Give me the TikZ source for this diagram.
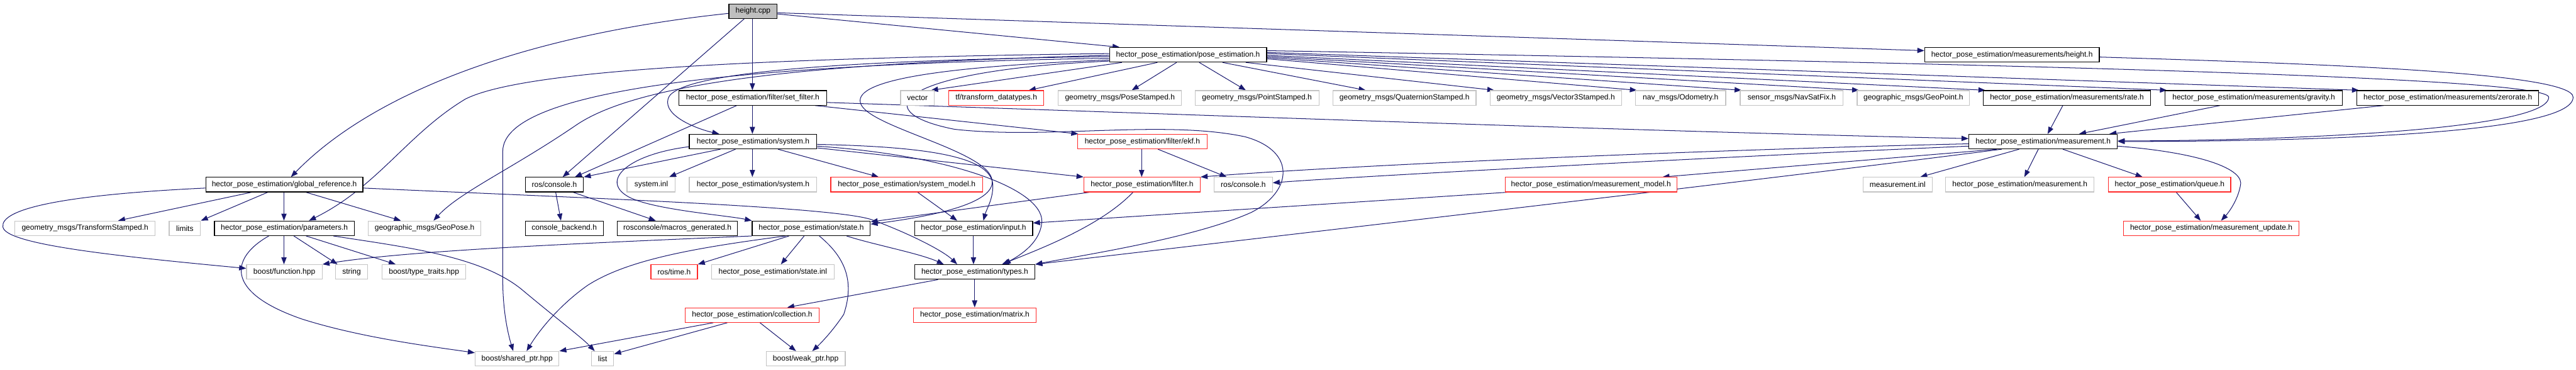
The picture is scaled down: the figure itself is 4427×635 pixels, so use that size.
\documentclass[tikz,border=0pt]{standalone}
\usepackage{fontspec}
\setmainfont{Liberation Sans}
\usetikzlibrary{arrows.meta,calc}
\definecolor{edgecol}{RGB}{25,25,112}
\definecolor{redb}{RGB}{255,40,40}
\definecolor{grayb}{RGB}{196,196,196}
\definecolor{cppfill}{RGB}{191,191,191}
\pgfdeclarelayer{bg}
\pgfsetlayers{bg,main}
\newcommand\mknode[6]{\node[#1, minimum width={(#4-#3)*1pt}, anchor=north west] (#2) at (#3,#5) {#6};}
\begin{document}
\begin{tikzpicture}[x=1pt,y=-1pt,
  box/.style={rectangle, fill=white, inner sep=0pt, minimum height=25pt, line width=1.3pt,
    font=\fontsize{13}{15}\selectfont, text=black},
  blk/.style={box, draw=black},
  gry/.style={box, draw=grayb},
  redbox/.style={box, draw=redb},
  e/.style={draw=edgecol, line width=1.1pt, -{Triangle[length=12pt,width=9pt]}}]
\useasboundingbox (0,0) rectangle (4427,635);
% rank 0
\mknode{blk, fill=cppfill}{cpp}{1252}{1335}{6}{height.cpp}
% rank 1
\mknode{blk}{pose}{1906}{2176}{81}{hector\_pose\_estimation/pose\_estimation.h}
\mknode{blk}{mheight}{3307}{3607}{81}{hector\_pose\_estimation/measurements/height.h}
% rank 2
\mknode{blk}{setf}{1166}{1420}{155}{hector\_pose\_estimation/filter/set\_filter.h}
\mknode{gry}{vector}{1547}{1605}{155}{vector}
\mknode{redbox}{tf}{1630}{1793}{155}{tf/transform\_datatypes.h}
\mknode{gry}{posest}{1818}{2030}{155}{geometry\_msgs/PoseStamped.h}
\mknode{gry}{pointst}{2053}{2266}{155}{geometry\_msgs/PointStamped.h}
\mknode{gry}{quat}{2290}{2536}{155}{geometry\_msgs/QuaternionStamped.h}
\mknode{gry}{vec3}{2560}{2786}{155}{geometry\_msgs/Vector3Stamped.h}
\mknode{gry}{odom}{2810}{2965}{155}{nav\_msgs/Odometry.h}
\mknode{gry}{navsat}{2990}{3167}{155}{sensor\_msgs/NavSatFix.h}
\mknode{gry}{geopoint}{3191}{3384}{155}{geographic\_msgs/GeoPoint.h}
\mknode{blk}{rate}{3408}{3695}{155}{hector\_pose\_estimation/measurements/rate.h}
\mknode{blk}{gravity}{3720}{4025}{155}{hector\_pose\_estimation/measurements/gravity.h}
\mknode{blk}{zerorate}{4050}{4362}{155}{hector\_pose\_estimation/measurements/zerorate.h}
% rank 3
\mknode{blk}{system}{1184}{1403}{230}{hector\_pose\_estimation/system.h}
\mknode{redbox}{ekf}{1851}{2074}{230}{hector\_pose\_estimation/filter/ekf.h}
\mknode{blk}{meas}{3383}{3638}{230}{hector\_pose\_estimation/measurement.h}
% rank 4
\mknode{blk}{globref}{353}{623}{304}{hector\_pose\_estimation/global\_reference.h}
\mknode{blk}{rosc}{902}{1002}{304}{ros/console.h}
\mknode{gry}{sysinl}{1077}{1160}{304}{system.inl}
\mknode{gry}{sysgray}{1184}{1403}{304}{hector\_pose\_estimation/system.h}
\mknode{redbox}{sysmodel}{1427}{1688}{304}{hector\_pose\_estimation/system\_model.h}
\mknode{redbox}{filter}{1862}{2062}{304}{hector\_pose\_estimation/filter.h}
\mknode{gry}{rosc2}{2086}{2186}{304}{ros/console.h}
\mknode{redbox}{measmodel}{2586}{2881}{304}{hector\_pose\_estimation/measurement\_model.h}
\mknode{gry}{measinl}{3201}{3320}{304}{measurement.inl}
\mknode{gry}{measgray}{3343}{3598}{304}{hector\_pose\_estimation/measurement.h}
\mknode{redbox}{queue}{3623}{3833}{304}{hector\_pose\_estimation/queue.h}
% rank 5
\mknode{gry}{transst}{25}{266}{379}{geometry\_msgs/TransformStamped.h}
\mknode{gry}{limits}{290}{344}{379}{limits}
\mknode{blk}{params}{368}{608}{379}{hector\_pose\_estimation/parameters.h}
\mknode{gry}{geopose}{632}{826}{379}{geographic\_msgs/GeoPose.h}
\mknode{blk}{cback}{902}{1036}{379}{console\_backend.h}
\mknode{blk}{macros}{1060}{1267}{379}{rosconsole/macros\_generated.h}
\mknode{blk}{state}{1292}{1495}{379}{hector\_pose\_estimation/state.h}
\mknode{blk}{input}{1571}{1774}{379}{hector\_pose\_estimation/input.h}
\mknode{redbox}{measupd}{3649}{3950}{379}{hector\_pose\_estimation/measurement\_update.h}
% rank 6
\mknode{gry}{function}{423}{553}{454}{boost/function.hpp}
\mknode{gry}{string}{576}{631}{454}{string}
\mknode{gry}{ttraits}{656}{800}{454}{boost/type\_traits.hpp}
\mknode{redbox}{rostime}{1118}{1198}{454}{ros/time.h}
\mknode{gry}{stateinl}{1222}{1433}{454}{hector\_pose\_estimation/state.inl}
\mknode{blk}{types}{1571}{1778}{454}{hector\_pose\_estimation/types.h}
% rank 7
\mknode{redbox}{collection}{1177}{1407}{528}{hector\_pose\_estimation/collection.h}
\mknode{redbox}{matrix}{1569}{1780}{528}{hector\_pose\_estimation/matrix.h}
% rank 8
\mknode{gry}{shared}{816}{960}{603}{boost/shared\_ptr.hpp}
\mknode{gry}{list}{1016}{1054}{603}{list}
\mknode{gry}{weak}{1316}{1452}{603}{boost/weak\_ptr.hpp}

\begin{pgfonlayer}{bg}
% height.cpp
\draw[e] (cpp.east |- 0,24) -- (pose.north -| 1924,0);
\draw[e] (cpp.east |- 0,22) -- (mheight.west |- 0,87);
\draw[e] (cpp.south -| 1293,0) -- (setf.north -| 1293,0);
\draw[e] (cpp.south -| 1279,0) -- (rosc.north -| 967,0);
\draw[e] (cpp.west |- 0,23) .. controls (900,60) and (640,160) .. (globref.north -| 500,0);
% pose_estimation.h
\draw[e] (pose.south -| 1928,0) -- (vector.north -| 1600,0);
\draw[e] (pose.south -| 1989,0) -- (tf.north -| 1768,0);
\draw[e] (pose.south -| 2022,0) -- (posest.north -| 1945,0);
\draw[e] (pose.south -| 2061,0) -- (pointst.north -| 2141,0);
\draw[e] (pose.south -| 2101,0) -- (quat.north -| 2347,0);
\draw[e] (pose.south -| 2141,0) -- (vec3.north -| 2568,0);
\draw[e] (pose.east |- 0,101) -- (odom.north -| 2813,0);
\draw[e] (pose.east |- 0,99) -- (navsat.north -| 2993,0);
\draw[e] (pose.east |- 0,97) -- (geopoint.north -| 3195,0);
\draw[e] (pose.east |- 0,95) -- (rate.north -| 3412,0);
\draw[e] (pose.east |- 0,92) -- (gravity.north -| 3724,0);
\draw[e] (pose.east |- 0,90) -- (zerorate.north -| 4054,0);
\draw[e] (pose.east |- 0,87) .. controls (3600,112) and (4380,135) .. (4380,167) .. controls (4380,225) and (3900,242) .. (meas.east |- 0,242);
\draw[e] (pose.west |- 0,97) .. controls (1500,103) and (1160,120) .. (1148,170) .. controls (1140,200) and (1200,222) .. (system.north -| 1236,0);
\draw[e] (pose.west |- 0,92) .. controls (1300,100) and (900,120) .. (800,170) .. controls (700,230) and (650,320) .. (params.north -| 531,0);
\draw[e] (pose.west |- 0,95) .. controls (1400,108) and (1100,140) .. (990,215) .. controls (880,290) and (790,330) .. (geopose.north -| 745,0);
\draw[e] (pose.west |- 0,100) .. controls (1300,110) and (864,150) .. (864,260) -- (864,480) .. controls (864,540) and (875,580) .. (shared.north -| 882,0);
\draw[e] (pose.west |- 0,103) .. controls (1600,115) and (1460,140) .. (1480,180) .. controls (1500,220) and (1700,260) .. (1705,310) .. controls (1710,350) and (1600,372) .. (state.east |- 0,385);
\draw[e] (pose.west |- 0,105) .. controls (1550,120) and (1480,190) .. (1640,222) .. controls (1800,240) and (2000,205) .. (2140,235) .. controls (2230,260) and (2220,330) .. (2150,365) .. controls (2050,410) and (1850,440) .. (types.north east);
% measurements/height.h
\draw[e] (mheight.east |- 0,98) .. controls (4000,110) and (4422,125) .. (4422,167) .. controls (4422,232) and (3950,243) .. (meas.east |- 0,243);
% set_filter.h
\draw[e] (setf.south -| 1401,0) -- (ekf.north -| 1853,0);
\draw[e] (setf.south -| 1293,0) -- (system.north -| 1293,0);
\draw[e] (setf.south -| 1266,0) -- (rosc.north -| 988,0);
\draw[e] (setf.east |- 0,176) .. controls (2000,195) and (2800,225) .. (meas.west |- 0,238);
% global_reference.h
\draw[e] (globref.south -| 432,0) -- (transst.north -| 203,0);
\draw[e] (globref.south -| 460,0) -- (limits.north east);
\draw[e] (globref.south -| 488,0) -- (params.north -| 488,0);
\draw[e] (globref.south -| 526,0) -- (geopose.north -| 689,0);
\draw[e] (globref.west |- 0,323) .. controls (100,335) and (0,360) .. (5,390) .. controls (10,420) and (200,440) .. (function.west |- 0,461);
\draw[e] (globref.east |- 0,323) .. controls (1000,340) and (1440,355) .. (1500,378) .. controls (1560,400) and (1620,430) .. (types.north -| 1645,0);
% measurements -> measurement.h
\draw[e] (rate.south -| 3545,0) -- (meas.north -| 3519,0);
\draw[e] (gravity.south -| 3815,0) -- (meas.north -| 3573,0);
\draw[e] (zerorate.south -| 4096,0) -- (meas.north -| 3625,0);
% system.h
\draw[e] (system.south -| 1238,0) -- (rosc.north east);
\draw[e] (system.south -| 1264,0) -- (sysinl.north -| 1150,0);
\draw[e] (system.south -| 1293,0) -- (sysgray.north -| 1293,0);
\draw[e] (system.south -| 1337,0) -- (sysmodel.north -| 1510,0);
\draw[e] (system.east |- 0,254) -- (filter.north west);
\draw[e] (system.east |- 0,248) .. controls (1600,252) and (1700,270) .. (1706,315) .. controls (1708,340) and (1695,360) .. (input.north -| 1690,0);
\draw[e] (system.east |- 0,251) .. controls (1650,268) and (1800,330) .. (1790,385) .. controls (1785,420) and (1750,440) .. (types.north -| 1725,0);
\draw[e] (system.west |- 0,252) .. controls (1080,265) and (1030,310) .. (1080,338) .. controls (1120,360) and (1250,370) .. (state.north west);
% ekf.h
\draw[e] (ekf.south -| 1962,0) -- (filter.north -| 1962,0);
\draw[e] (ekf.south -| 1990,0) -- (rosc2.north -| 2108,0);
% measurement.h
\draw[e] (meas.south -| 3470,0) -- (measinl.north -| 3300,0);
\draw[e] (meas.south -| 3503,0) -- (measgray.north -| 3479,0);
\draw[e] (meas.south -| 3545,0) -- (queue.north -| 3682,0);
\draw[e] (meas.east |- 0,251) .. controls (3780,262) and (3860,290) .. (3850,320) .. controls (3845,345) and (3830,365) .. (measupd.north -| 3817,0);
\draw[e] (meas.south -| 3432,0) -- (measmodel.north -| 2857,0);
\draw[e] (meas.west |- 0,247) .. controls (2900,258) and (2300,285) .. (filter.north east);
\draw[e] (meas.west |- 0,251) .. controls (2900,272) and (2300,305) .. (rosc2.east |- 0,314);
\draw[e] (meas.south -| 3440,0) .. controls (3100,300) and (2500,370) .. (types.north east);
% others
\draw[e] (measmodel.south -| 2590,0) -- (input.east |- 0,383);
\draw[e] (queue.south -| 3740,0) -- (measupd.north -| 3782,0);
\draw[e] (rosc.south -| 955,0) -- (cback.north -| 964,0);
\draw[e] (rosc.south -| 985,0) -- (macros.north -| 1127,0);
\draw[e] (sysmodel.south -| 1577,0) -- (input.north -| 1645,0);
\draw[e] (filter.south -| 1872,0) -- (state.east |- 0,381);
\draw[e] (filter.south -| 1947,0) .. controls (1890,390) and (1780,430) .. (types.north -| 1722,0);
% parameters.h
\draw[e] (params.south -| 488,0) -- (function.north -| 488,0);
\draw[e] (params.south -| 505,0) -- (string.north -| 580,0);
\draw[e] (params.south -| 526,0) -- (ttraits.north -| 680,0);
\draw[e] (params.south -| 462,0) .. controls (400,440) and (380,500) .. (519,548) .. controls (620,580) and (740,595) .. (shared.west |- 0,606);
\draw[e] (params.south -| 573,0) .. controls (700,425) and (830,440) .. (900,500) .. controls (960,550) and (1000,580) .. (list.north -| 1022,0);
% state.h
\draw[e] (state.south -| 1356,0) -- (rostime.north east);
\draw[e] (state.south -| 1382,0) -- (stateinl.north -| 1342,0);
\draw[e] (state.south -| 1408,0) .. controls (1450,440) and (1470,480) .. (1450,540) .. controls (1430,570) and (1410,590) .. (weak.north -| 1396,0);
\draw[e] (state.south -| 1350,0) .. controls (1200,425) and (1080,445) .. (1010,490) .. controls (960,525) and (925,570) .. (shared.north -| 905,0);
\draw[e] (state.south west) .. controls (1000,418) and (700,430) .. (function.north east);
\draw[e] (state.south -| 1455,0) .. controls (1500,420) and (1580,435) .. (types.north -| 1622,0);
% input / types / collection
\draw[e] (input.south -| 1673,0) -- (types.north -| 1673,0);
\draw[e] (types.south -| 1675,0) -- (matrix.north -| 1675,0);
\draw[e] (types.south -| 1612,0) -- (collection.north -| 1353,0);
\draw[e] (collection.south -| 1226,0) -- (shared.north east);
\draw[e] (collection.south -| 1250,0) -- (list.east |- 0,608);
\draw[e] (collection.south -| 1306,0) -- (weak.north -| 1368,0);
\end{pgfonlayer}
\end{tikzpicture}
\end{document}
